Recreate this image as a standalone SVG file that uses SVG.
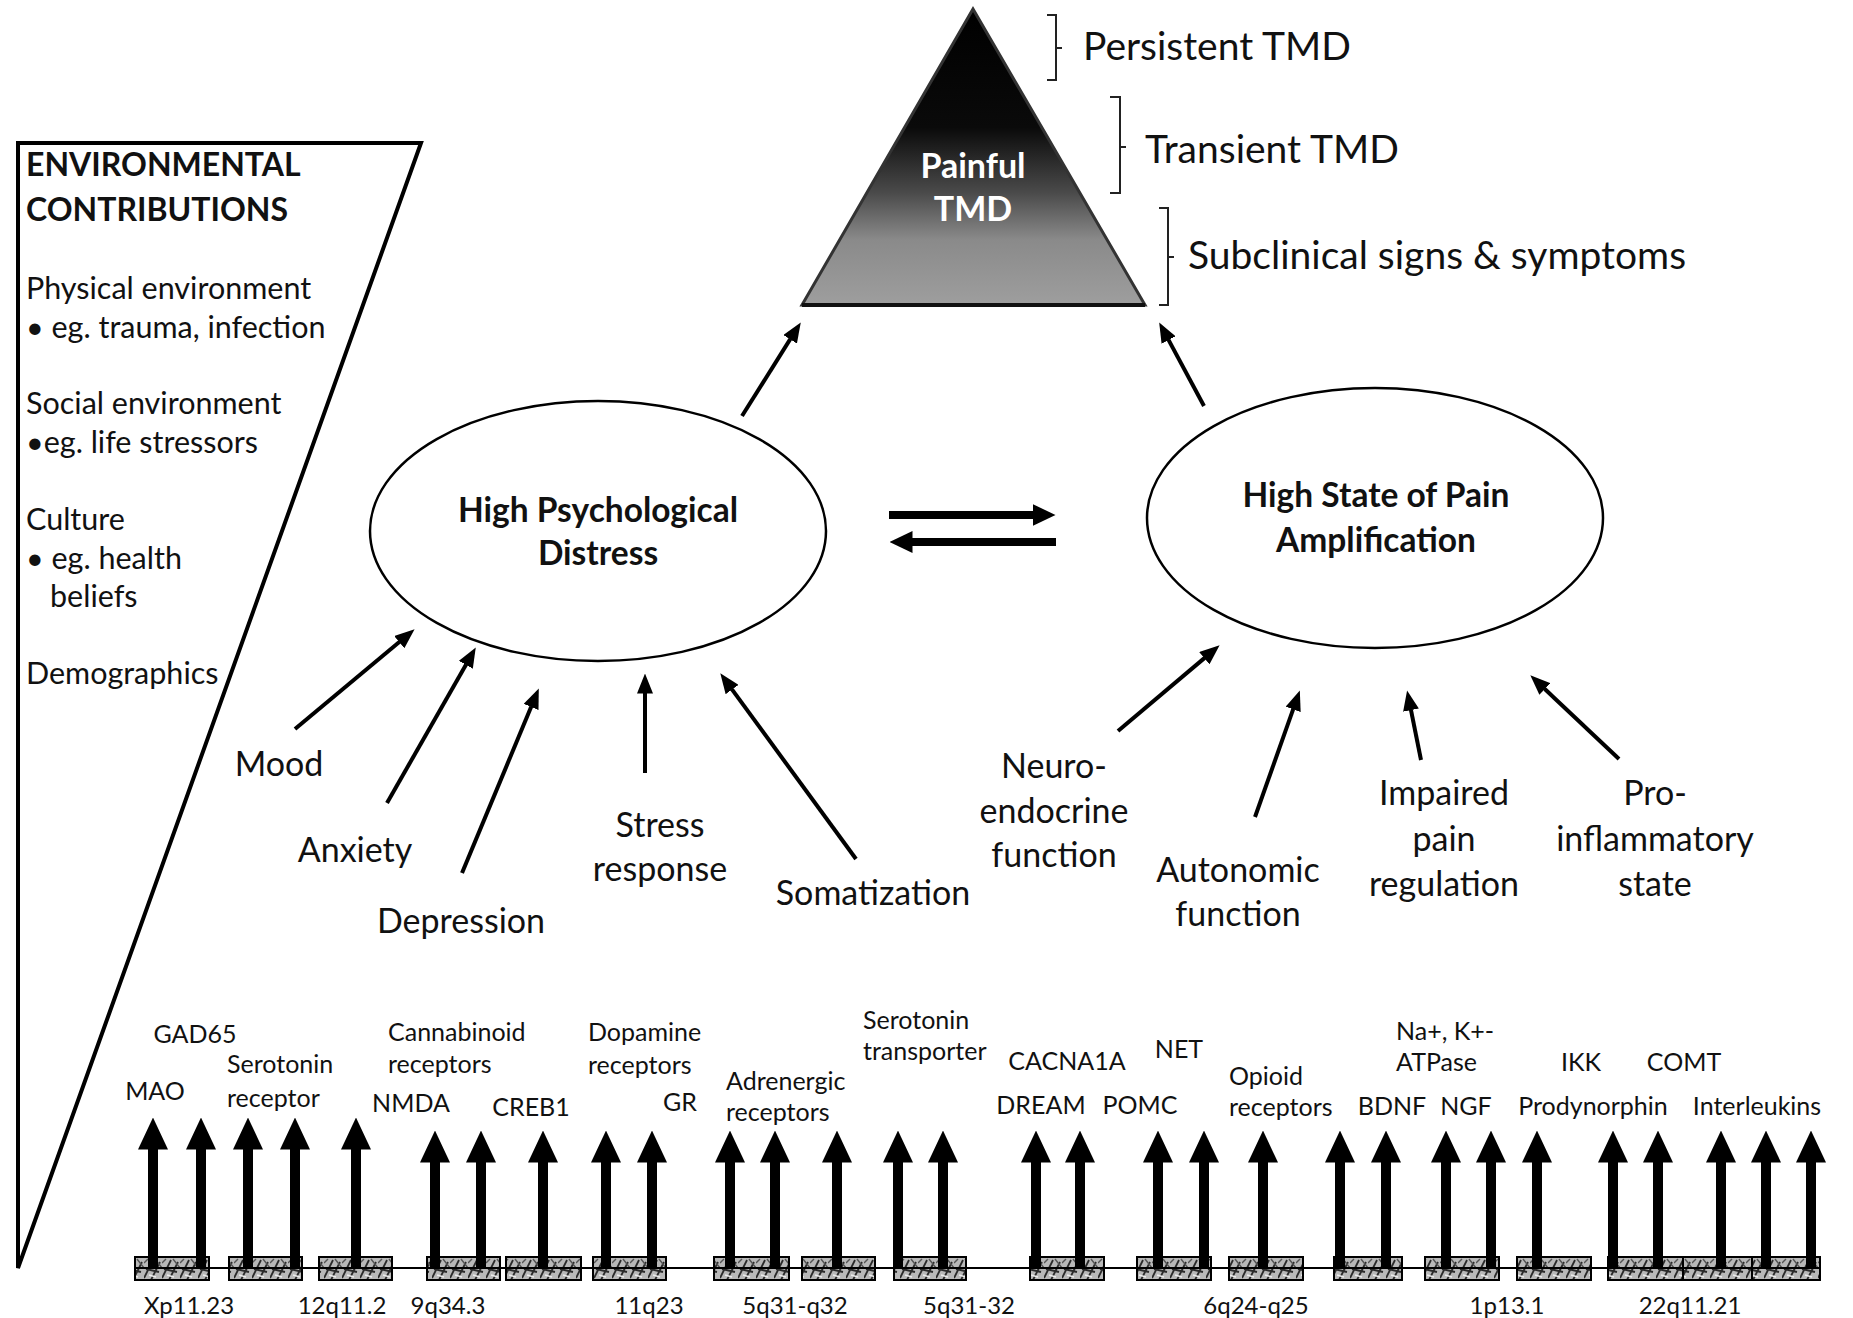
<svg xmlns="http://www.w3.org/2000/svg" width="1853" height="1318" viewBox="0 0 1853 1318">
<style>
text{font-family:Lato,"Liberation Sans",sans-serif;fill:#111}
.env{font-size:30.5px}
.envh{font-size:32px;font-weight:bold}
.lab{font-size:34px;text-anchor:middle}
.ell{font-size:33.5px;font-weight:bold;text-anchor:middle}
.lvl{font-size:39px}
.gene{font-size:25px}
.gc{font-size:25px;text-anchor:middle}
.loc{font-size:24px;text-anchor:middle}
.thin{stroke:#000;stroke-width:4;fill:none;marker-end:url(#thinHead)}
.med{stroke:#000;stroke-width:8;fill:none;marker-end:url(#medHead)}
.garrow{stroke:#000;stroke-width:10;fill:none;marker-end:url(#geneHead)}
.box{fill:url(#hatch);stroke:#000;stroke-width:2}
.brk{fill:none;stroke:#222;stroke-width:2}
</style>
<defs>
<marker id="thinHead" markerUnits="userSpaceOnUse" markerWidth="20" markerHeight="16" refX="0.5" refY="8" orient="auto"><path d="M0,0 L20,8 L0,16 z" fill="#000"/></marker>
<marker id="medHead" markerUnits="userSpaceOnUse" markerWidth="23" markerHeight="22" refX="0.5" refY="11" orient="auto"><path d="M0,0 L23,11 L0,22 z" fill="#000"/></marker>
<marker id="geneHead" markerUnits="userSpaceOnUse" markerWidth="32" markerHeight="30" refX="0.5" refY="15" orient="auto"><path d="M0,0 L32,15 L0,30 z" fill="#000"/></marker>
<linearGradient id="pyr" x1="0" y1="0" x2="0" y2="1">
<stop offset="0" stop-color="#000"/>
<stop offset="0.4" stop-color="#0a0a0a"/>
<stop offset="0.62" stop-color="#4a4a4a"/>
<stop offset="0.78" stop-color="#8a8a8a"/>
<stop offset="1" stop-color="#9e9e9e"/>
</linearGradient>
<pattern id="hatch" patternUnits="userSpaceOnUse" width="18" height="23" x="0" y="1257">
<rect width="18" height="23" fill="#b8b8b8"/>
<path d="M0,21 L9,3 M7,23 L16,5 M2,12 L15,15" stroke="#2a2a2a" stroke-width="1.8" fill="none"/>
<path d="M11,2 L18,11 M0,6 L4,2" stroke="#555" stroke-width="1.4" fill="none"/>
<path d="M5,18 L12,20" stroke="#eee" stroke-width="1.5" fill="none"/>
</pattern>
</defs>
<rect width="1853" height="1318" fill="#fff"/>

<g id="environment">
<path d="M18,143 L421,143 L18,1268 Z" fill="none" stroke="#000" stroke-width="4" stroke-linejoin="miter"/>
<text class="envh" x="26" y="176">ENVIRONMENTAL</text>
<text class="envh" x="26" y="221">CONTRIBUTIONS</text>
<text class="env" x="26" y="299">Physical  environment</text>
<text class="env" x="26" y="338">• eg. trauma, infection</text>
<text class="env" x="26" y="414">Social environment</text>
<text class="env" x="26" y="453">•eg. life stressors</text>
<text class="env" x="26" y="530">Culture</text>
<text class="env" x="26" y="569">• eg. health</text>
<text class="env" x="50" y="607">beliefs</text>
<text class="env" x="26" y="684">Demographics</text>
</g>

<g id="pyramid">
<path d="M973,9 L1145,305 L802,305 Z" fill="url(#pyr)" stroke="#333" stroke-width="3" stroke-linejoin="miter"/>
<line x1="802" y1="305" x2="1145" y2="305" stroke="#111" stroke-width="4"/>
<text x="973" y="178" style="font-size:34px;font-weight:bold;text-anchor:middle;fill:#fff">Painful</text>
<text x="973" y="221" style="font-size:34px;font-weight:bold;text-anchor:middle;fill:#fff">TMD</text>
</g>

<g id="levels">
<path class="brk" d="M1047,15 L1056,15 L1056,80 L1047,80 M1056,48 L1062,48"/>
<text class="lvl" x="1083" y="60">Persistent TMD</text>
<path class="brk" d="M1110,97 L1120,97 L1120,193 L1110,193 M1120,147 L1126,147"/>
<text class="lvl" x="1145" y="163">Transient TMD</text>
<path class="brk" d="M1159,208 L1168,208 L1168,305 L1159,305 M1168,257 L1174,257"/>
<text class="lvl" x="1188" y="269">Subclinical signs &amp; symptoms</text>
</g>

<g id="psych">
<ellipse cx="598" cy="531" rx="228" ry="130" fill="#fff" stroke="#000" stroke-width="2.5"/>
<text class="ell" x="598" y="522">High Psychological</text>
<text class="ell" x="598" y="565">Distress</text>
</g>

<g id="pain">
<ellipse cx="1375" cy="518" rx="228" ry="130" fill="#fff" stroke="#000" stroke-width="2.5"/>
<text class="ell" x="1376" y="507">High State of Pain</text>
<text class="ell" x="1376" y="552">Amplification</text>
</g>

<g id="psych-factors">
<text class="lab" x="279" y="776">Mood</text>
<text class="lab" x="355" y="862">Anxiety</text>
<text class="lab" x="461" y="933">Depression</text>
<text class="lab" x="660" y="837">Stress</text>
<text class="lab" x="660" y="881">response</text>
<text class="lab" x="873" y="905">Somatization</text>
</g>

<g id="pain-factors">
<text class="lab" x="1054" y="778">Neuro-</text>
<text class="lab" x="1054" y="823">endocrine</text>
<text class="lab" x="1054" y="867">function</text>
<text class="lab" x="1238" y="882">Autonomic</text>
<text class="lab" x="1238" y="926">function</text>
<text class="lab" x="1444" y="805">Impaired</text>
<text class="lab" x="1444" y="851">pain</text>
<text class="lab" x="1444" y="896">regulation</text>
<text class="lab" x="1655" y="805">Pro-</text>
<text class="lab" x="1655" y="851">inflammatory</text>
<text class="lab" x="1655" y="896">state</text>
</g>

<g id="connectors">
<line class="thin" x1="742" y1="416" x2="790.4" y2="338.9"/>
<line class="thin" x1="1204" y1="406" x2="1168.4" y2="339.6"/>
<line class="med" x1="889" y1="515" x2="1033" y2="515"/>
<line class="med" x1="1056" y1="542" x2="912" y2="542"/>
<line class="thin" x1="295" y1="729" x2="399.6" y2="641.8"/>
<line class="thin" x1="387" y1="803" x2="466.1" y2="664.4"/>
<line class="thin" x1="462" y1="873" x2="531.3" y2="706.5"/>
<line class="thin" x1="645" y1="773" x2="645" y2="693"/>
<line class="thin" x1="856" y1="859" x2="731.8" y2="689.1"/>
<line class="thin" x1="1118" y1="731" x2="1204.7" y2="657.9"/>
<line class="thin" x1="1255" y1="817" x2="1293.3" y2="708.9"/>
<line class="thin" x1="1421" y1="760" x2="1410.9" y2="709.6"/>
<line class="thin" x1="1619" y1="759" x2="1544.5" y2="688.7"/>
</g>

<g id="chromosome">
<rect class="box" x="135" y="1257" width="74" height="23"/>
<rect class="box" x="229" y="1257" width="73" height="23"/>
<rect class="box" x="319" y="1257" width="73" height="23"/>
<rect class="box" x="427" y="1257" width="73" height="23"/>
<rect class="box" x="506" y="1257" width="75" height="23"/>
<rect class="box" x="593" y="1257" width="73" height="23"/>
<rect class="box" x="714" y="1257" width="75" height="23"/>
<rect class="box" x="802" y="1257" width="73" height="23"/>
<rect class="box" x="894" y="1257" width="72" height="23"/>
<rect class="box" x="1030" y="1257" width="74" height="23"/>
<rect class="box" x="1137" y="1257" width="74" height="23"/>
<rect class="box" x="1229" y="1257" width="74" height="23"/>
<rect class="box" x="1334" y="1257" width="68" height="23"/>
<rect class="box" x="1425" y="1257" width="74" height="23"/>
<rect class="box" x="1517" y="1257" width="74" height="23"/>
<rect class="box" x="1608" y="1257" width="75" height="23"/>
<rect class="box" x="1683" y="1257" width="69" height="23"/>
<rect class="box" x="1752" y="1257" width="68" height="23"/>
<line x1="135" y1="1268" x2="1820" y2="1268" stroke="#000" stroke-width="2"/>
</g>

<g id="gene-arrows">
<line class="garrow" x1="153" y1="1268" x2="153" y2="1149"/>
<line class="garrow" x1="201" y1="1268" x2="201" y2="1149"/>
<line class="garrow" x1="248" y1="1268" x2="248" y2="1149"/>
<line class="garrow" x1="295" y1="1268" x2="295" y2="1149"/>
<line class="garrow" x1="356" y1="1268" x2="356" y2="1149"/>
<line class="garrow" x1="435" y1="1268" x2="435" y2="1162"/>
<line class="garrow" x1="481" y1="1268" x2="481" y2="1162"/>
<line class="garrow" x1="543" y1="1268" x2="543" y2="1162"/>
<line class="garrow" x1="606" y1="1268" x2="606" y2="1162"/>
<line class="garrow" x1="652" y1="1268" x2="652" y2="1162"/>
<line class="garrow" x1="730" y1="1268" x2="730" y2="1162"/>
<line class="garrow" x1="775" y1="1268" x2="775" y2="1162"/>
<line class="garrow" x1="837" y1="1268" x2="837" y2="1162"/>
<line class="garrow" x1="898" y1="1268" x2="898" y2="1162"/>
<line class="garrow" x1="943" y1="1268" x2="943" y2="1162"/>
<line class="garrow" x1="1036" y1="1268" x2="1036" y2="1162"/>
<line class="garrow" x1="1080" y1="1268" x2="1080" y2="1162"/>
<line class="garrow" x1="1158" y1="1268" x2="1158" y2="1162"/>
<line class="garrow" x1="1204" y1="1268" x2="1204" y2="1162"/>
<line class="garrow" x1="1263" y1="1268" x2="1263" y2="1162"/>
<line class="garrow" x1="1340" y1="1268" x2="1340" y2="1162"/>
<line class="garrow" x1="1386" y1="1268" x2="1386" y2="1162"/>
<line class="garrow" x1="1446" y1="1268" x2="1446" y2="1162"/>
<line class="garrow" x1="1491" y1="1268" x2="1491" y2="1162"/>
<line class="garrow" x1="1537" y1="1268" x2="1537" y2="1162"/>
<line class="garrow" x1="1613" y1="1268" x2="1613" y2="1162"/>
<line class="garrow" x1="1658" y1="1268" x2="1658" y2="1162"/>
<line class="garrow" x1="1721" y1="1268" x2="1721" y2="1162"/>
<line class="garrow" x1="1766" y1="1268" x2="1766" y2="1162"/>
<line class="garrow" x1="1811" y1="1268" x2="1811" y2="1162"/>
</g>

<g id="gene-labels">
<text class="gc" x="195" y="1043">GAD65</text>
<text class="gc" x="155" y="1100">MAO</text>
<text class="gene" x="227" y="1073">Serotonin</text>
<text class="gene" x="227" y="1107">receptor</text>
<text class="gene" x="388" y="1041">Cannabinoid</text>
<text class="gene" x="388" y="1073">receptors</text>
<text class="gc" x="411" y="1112">NMDA</text>
<text class="gc" x="531" y="1116">CREB1</text>
<text class="gene" x="588" y="1041">Dopamine</text>
<text class="gene" x="588" y="1074">receptors</text>
<text class="gc" x="680" y="1111">GR</text>
<text class="gene" x="726" y="1090">Adrenergic</text>
<text class="gene" x="726" y="1121">receptors</text>
<text class="gene" x="863" y="1029">Serotonin</text>
<text class="gene" x="863" y="1060">transporter</text>
<text class="gc" x="1067" y="1070">CACNA1A</text>
<text class="gc" x="1179" y="1058">NET</text>
<text class="gc" x="1041" y="1114">DREAM</text>
<text class="gc" x="1140" y="1114">POMC</text>
<text class="gene" x="1229" y="1085">Opioid</text>
<text class="gene" x="1229" y="1116">receptors</text>
<text class="gene" x="1396" y="1040">Na+, K+-</text>
<text class="gene" x="1396" y="1071">ATPase</text>
<text class="gc" x="1392" y="1115">BDNF</text>
<text class="gc" x="1466" y="1115">NGF</text>
<text class="gc" x="1581" y="1071">IKK</text>
<text class="gc" x="1684" y="1071">COMT</text>
<text class="gc" x="1593" y="1115">Prodynorphin</text>
<text class="gc" x="1757" y="1115">Interleukins</text>
</g>

<g id="loci">
<text class="loc" x="189" y="1314">Xp11.23</text>
<text class="loc" x="342" y="1314">12q11.2</text>
<text class="loc" x="448" y="1314">9q34.3</text>
<text class="loc" x="649" y="1314">11q23</text>
<text class="loc" x="795" y="1314">5q31-q32</text>
<text class="loc" x="969" y="1314">5q31-32</text>
<text class="loc" x="1256" y="1314">6q24-q25</text>
<text class="loc" x="1507" y="1314">1p13.1</text>
<text class="loc" x="1690" y="1314">22q11.21</text>
</g>
</svg>
